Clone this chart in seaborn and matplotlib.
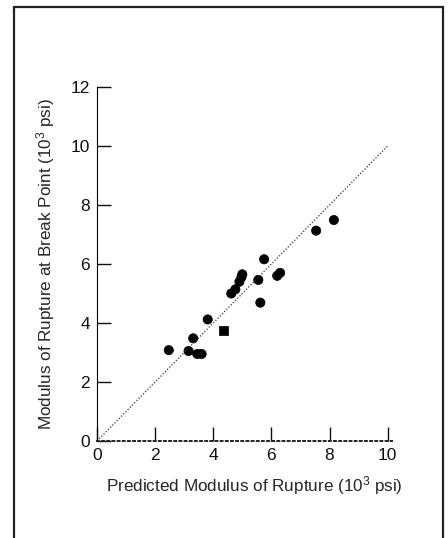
import numpy as np
import pandas as pd
import seaborn as sns
import matplotlib.pyplot as plt
from matplotlib.patches import Rectangle

# predicted vs measured modulus of rupture (10^3 psi)
predicted = [2.47, 3.15, 3.45, 3.60, 3.31, 3.81, 4.34, 4.62, 4.76, 4.90, 4.97, 5.00,
             5.62, 5.55, 5.75, 6.20, 6.30, 7.54, 8.15]
measured = [3.08, 3.05, 2.95, 2.95, 3.48, 4.12, 3.74, 5.00, 5.14, 5.40, 5.55, 5.65,
            4.69, 5.46, 6.16, 5.60, 5.70, 7.13, 7.49]
shape = ["o"] * 6 + ["s"] + ["o"] * 12

df = pd.DataFrame({"pred": predicted, "meas": measured, "shape": shape})

sns.set_style("white")
plt.rcParams["font.family"] = ["Liberation Sans", "DejaVu Sans"]
plt.rcParams["mathtext.default"] = "regular"

fig = plt.figure(figsize=(4.48, 5.38), dpi=100)
ax = fig.add_axes([0.2165, 0.1803, 0.6585, 0.658])

fig.patches.append(Rectangle((14 / 448, -0.01), (443 - 14) / 448, 1 - 7 / 538 + 0.01,
                             transform=fig.transFigure, fill=False,
                             edgecolor="#222222", linewidth=1.6))

line_x = [0, 10]
ax.plot(line_x, line_x, color="#333333", linestyle=(0, (1, 1.5)), linewidth=0.9)

sns.scatterplot(data=df, x="pred", y="meas", style="shape",
                markers={"o": "o", "s": "s"}, color="black", s=44,
                edgecolor="black", legend=False, ax=ax)

ax.set_xlim(0, 10.15)
ax.set_ylim(0, 12)
ax.set_xticks(range(0, 11, 2))
ax.set_yticks(range(0, 13, 2))
ax.tick_params(bottom=True, left=True, direction="in", length=10, width=1,
               labelsize=12.5, colors="#111111", pad=5)
for side in ["top", "right"]:
    ax.spines[side].set_visible(False)
ax.spines["left"].set_color("black")
ax.spines["bottom"].set_color("#222222")
ax.spines["bottom"].set_linestyle(":")
ax.spines["bottom"].set_linewidth(1.4)

ax.set_xlabel("Predicted Modulus of Rupture (10$^3$ psi)", fontsize=12.3, labelpad=8)
ax.xaxis.label.set_x(0.535)
ax.set_ylabel("Modulus of Rupture at Break Point (10$^3$ psi)", fontsize=12.3, labelpad=10)

fig.savefig("out.png", dpi=100)
